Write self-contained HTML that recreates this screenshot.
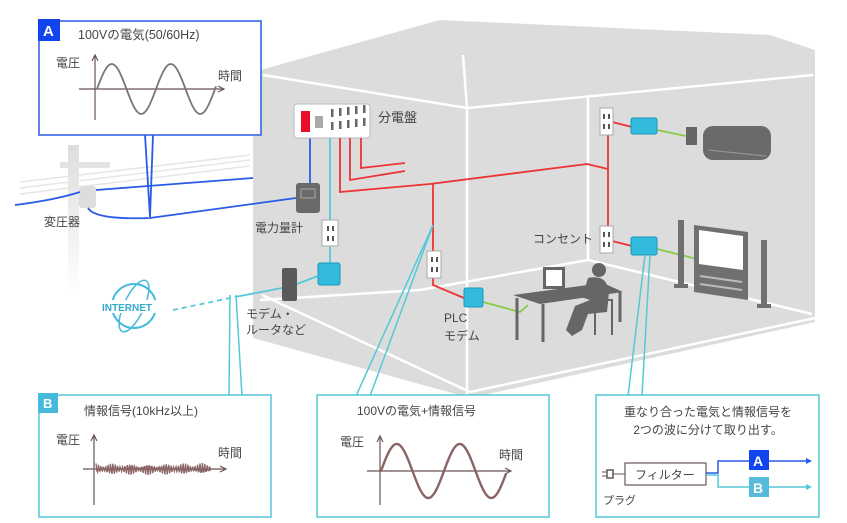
<!DOCTYPE html>
<html><head><meta charset="utf-8"><style>
html,body{margin:0;padding:0;background:#fff;}
svg{display:block;}
text{font-family:"Liberation Sans","Noto Sans CJK JP",sans-serif;fill:#444;}
</style></head><body>
<svg width="847" height="523" viewBox="0 0 847 523" xmlns="http://www.w3.org/2000/svg">
<defs>
<linearGradient id="pole" x1="0" y1="0" x2="0" y2="1"><stop offset="0" stop-color="#ddd"/><stop offset="1" stop-color="#fff"/></linearGradient>
</defs>
<rect x="68" y="145" width="11" height="150" fill="url(#pole)"/>
<rect x="60" y="162" width="50" height="6" fill="#e4e4e4"/>
<path d="M20,182 L250,155 M20,188 L250,160 M20,194 L250,166" stroke="#e6e6e6" stroke-width="1.5" fill="none"/>
<rect x="79" y="186" width="17" height="22" rx="3" fill="#ddd"/>
<polygon points="253,72 440,20 770,35 815,50 815,322 470,398 253,338" fill="#dcdcdc"/>
<g stroke="#fff" stroke-width="2.5" fill="none">
<path d="M263,75 L467,108 L813,75"/>
<path d="M467,108 L463,55"/>
<path d="M467,108 L467,395"/>
<path d="M588,98 L588,260 L812,314"/>
<path d="M588,260 L420,290 L260,300"/>
<path d="M470,392 L815,318"/>
<path d="M262,295 L470,392"/>
</g>
<g stroke="#2a5be8" stroke-width="1.8" fill="none">
<path d="M15,205 Q55,200 80,192"/>
<path d="M96,190 L253,178"/>
<path d="M88,208 Q95,220 150,218 L296,198"/>
<path d="M310,138 L310,184"/>
<path d="M145,135 L150,217 L153,135"/>
</g>
<rect x="39" y="21" width="222" height="114" fill="#fff" stroke="#2a5be8" stroke-width="1.5"/>
<rect x="38" y="19" width="22" height="22" fill="#1144ee"/>
<text x="43" y="36" font-size="15" font-weight="bold" style="fill:#fff">A</text>
<text x="78" y="39" font-size="12.5">100Vの電気(50/60Hz)</text>
<text x="56" y="67" font-size="12">電圧</text>
<text x="218" y="80" font-size="12">時間</text>
<g stroke="#6b5555" stroke-width="1.2" fill="none">
<path d="M95,120 L95,56 M92,61 L95,55 L98,61"/>
<path d="M79,89 L223,89 M218,86 L224,89 L218,92"/>
</g>
<path id="sA" d="" stroke="#777" stroke-width="1.8" fill="none"/>
<rect x="294" y="104" width="76" height="34" rx="3" fill="#fff" stroke="#bbb"/>
<rect x="301" y="111" width="9" height="21" fill="#e8102a"/>
<rect x="315" y="116" width="8" height="12" fill="#aaa"/>
<g fill="#666"><rect x="331" y="109" width="2.5" height="8"/><rect x="339" y="108" width="2.5" height="8"/><rect x="347" y="107" width="2.5" height="8"/><rect x="355" y="106" width="2.5" height="8"/><rect x="363" y="105" width="2.5" height="8"/>
<rect x="331" y="122" width="2.5" height="8"/><rect x="339" y="121" width="2.5" height="8"/><rect x="347" y="120" width="2.5" height="8"/><rect x="355" y="119" width="2.5" height="8"/><rect x="363" y="118" width="2.5" height="8"/></g>
<text x="378" y="122" font-size="13">分電盤</text>
<g stroke="#ee3333" stroke-width="1.8" fill="none">
<path d="M340,138 L340,192 L430,184 L587,164 L608,169"/>
<path d="M350,138 L350,180 L405,171"/>
<path d="M361,138 L361,168 L405,163"/>
<path d="M608,122 L608,240 M612,122 L632,127 M612,241 L632,246"/>
<path d="M433,184 L433,285 L464,298"/>
</g>
<path d="M330,138 L330,268" stroke="#55c8d8" stroke-width="1.8"/>
<rect x="296" y="183" width="24" height="30" rx="3" fill="#6a6a6a"/>
<rect x="301" y="189" width="14" height="9" fill="none" stroke="#aaa"/>
<text x="255" y="232" font-size="12">電力量計</text>
<g fill="#fff" stroke="#aaa">
<rect x="322" y="220" width="16" height="26"/>
<rect x="427" y="251" width="14" height="27"/>
<rect x="600" y="108" width="13" height="27"/>
<rect x="600" y="226" width="13" height="27"/>
</g>
<g fill="#555"><rect x="327" y="226" width="2" height="5"/><rect x="332" y="226" width="2" height="5"/><rect x="327" y="236" width="2" height="5"/><rect x="332" y="236" width="2" height="5"/>
<rect x="431" y="257" width="2" height="5"/><rect x="436" y="257" width="2" height="5"/><rect x="431" y="267" width="2" height="5"/><rect x="436" y="267" width="2" height="5"/>
<rect x="603" y="114" width="2" height="5"/><rect x="608" y="114" width="2" height="5"/><rect x="603" y="124" width="2" height="5"/><rect x="608" y="124" width="2" height="5"/>
<rect x="603" y="232" width="2" height="5"/><rect x="608" y="232" width="2" height="5"/><rect x="603" y="242" width="2" height="5"/><rect x="608" y="242" width="2" height="5"/></g>
<g stroke="#88cc44" stroke-width="1.8" fill="none">
<path d="M657,130 L686,136"/>
<path d="M657,249 L697,259"/>
<path d="M483,302 L520,312 L528,305"/>
</g>
<g fill="#33bbdd" stroke="#1a99bb">
<rect x="631" y="118" width="26" height="16" rx="2"/>
<rect x="631" y="237" width="26" height="18" rx="2"/>
<rect x="464" y="288" width="19" height="19" rx="2"/>
<rect x="318" y="263" width="22" height="22" rx="2"/>
</g>
<rect x="686" y="127" width="11" height="18" fill="#666"/>
<rect x="703" y="126" width="68" height="34" rx="10" fill="#6a6a6a"/>
<path d="M708,150 L766,156" stroke="#999"/>
<rect x="678" y="220" width="6" height="65" fill="#707070"/>
<rect x="674" y="284" width="14" height="4" fill="#707070"/>
<rect x="761" y="240" width="6" height="65" fill="#707070"/>
<rect x="757" y="304" width="14" height="4" fill="#707070"/>
<polygon points="694,225 748,232 748,300 694,292" fill="#707070"/>
<polygon points="699,230 743,236 743,270 699,264" fill="#fff"/>
<g stroke="#bbb" stroke-width="2"><path d="M700,276 L742,282 M700,284 L742,290"/></g>
<path d="M513,295 L603,283 L623,292 L540,304 Z" fill="#666"/>
<g stroke="#666" stroke-width="3"><path d="M517,298 L517,340 M543,304 L543,342 M620,292 L620,322"/></g>
<rect x="543" y="267" width="22" height="22" fill="#666"/>
<rect x="546" y="270" width="16" height="16" fill="#fff"/>
<circle cx="599" cy="270" r="7" fill="#666"/>
<path d="M588,278 Q607,274 609,292 L607,312 L588,314 L582,330 L572,336 L566,330 L575,306 L590,300 L578,296 L585,288 Z" fill="#666"/>
<path d="M590,300 L612,300 L612,335 M595,300 L595,335" stroke="#666" stroke-width="2" fill="none"/>
<rect x="282" y="268" width="15" height="33" rx="2" fill="#5a5a5a"/>
<path d="M297,284 L318,276" stroke="#55c8d8" stroke-width="1.8"/>
<path d="M173,310 L235,297" stroke="#55c8d8" stroke-width="1.8" stroke-dasharray="5,4"/>
<path d="M235,297 L282,288" stroke="#55c8d8" stroke-width="1.8"/>
<circle cx="134" cy="306" r="22" fill="none" stroke="#44bbdd" stroke-width="2"/>
<ellipse cx="134" cy="306" rx="10" ry="28" transform="rotate(25 134 306)" fill="none" stroke="#44bbdd" stroke-width="1.5"/>
<rect x="100" y="300" width="68" height="13" fill="#fff"/>
<text x="102" y="311" font-size="10" font-weight="bold" style="fill:#33aacc">INTERNET</text>
<text x="44" y="226" font-size="12">変圧器</text>
<text x="246" y="318" font-size="12">モデム・</text>
<text x="246" y="334" font-size="12">ルータなど</text>
<text x="444" y="322" font-size="12">PLC</text>
<text x="444" y="340" font-size="12">モデム</text>
<text x="533" y="243" font-size="12">コンセント</text>
<g stroke="#55c8d8" stroke-width="1.5" fill="none">
<path d="M230,295 L229,396 M236,295 L242,396"/>
<path d="M433,225 L356,396 M433,225 L370,396"/>
<path d="M645,255 L628,396 M650,255 L642,396"/>
</g>
<rect x="39" y="395" width="232" height="122" fill="#fff" stroke="#55c8d8" stroke-width="1.5"/>
<rect x="38" y="393" width="20" height="20" fill="#44bbdd"/>
<text x="43" y="408" font-size="13" font-weight="bold" style="fill:#fff">B</text>
<text x="84" y="415" font-size="12">情報信号(10kHz以上)</text>
<text x="56" y="444" font-size="12">電圧</text>
<text x="218" y="457" font-size="12">時間</text>
<g stroke="#6b5555" stroke-width="1.2" fill="none">
<path d="M94,505 L94,436 M91,441 L94,435 L97,441"/>
<path d="M83,469 L225,469 M220,466 L226,469 L220,472"/>
</g>
<path id="sB" d="" stroke="#8a6464" stroke-width="1.3" fill="none"/>
<rect x="317" y="395" width="232" height="122" fill="#fff" stroke="#55c8d8" stroke-width="1.5"/>
<text x="357" y="415" font-size="12">100Vの電気+情報信号</text>
<text x="340" y="446" font-size="12">電圧</text>
<text x="499" y="459" font-size="12">時間</text>
<g stroke="#6b5555" stroke-width="1.2" fill="none">
<path d="M380,505 L380,437 M377,442 L380,436 L383,442"/>
<path d="M367,471 L510,471 M505,468 L511,471 L505,474"/>
</g>
<path id="sM" d="" stroke="#8a6464" stroke-width="2.4" fill="none"/>
<rect x="596" y="395" width="223" height="122" fill="#fff" stroke="#55c8d8" stroke-width="1.5"/>
<text x="708" y="416" font-size="12" text-anchor="middle">重なり合った電気と情報信号を</text>
<text x="708" y="434" font-size="12" text-anchor="middle">2つの波に分けて取り出す。</text>
<rect x="625" y="463" width="81" height="22" fill="#fff" stroke="#6b5555" stroke-width="1.2"/>
<text x="635" y="479" font-size="12">フィルター</text>
<path d="M612,474 L625,474" stroke="#6b5555"/>
<rect x="607" y="470" width="6" height="8" fill="none" stroke="#6b5555" stroke-width="1.5"/>
<path d="M602,472 L607,472 M602,476 L607,476" stroke="#6b5555"/>
<text x="603" y="504" font-size="11">プラグ</text>
<path d="M706,473 L718,473 L718,461 L806,461" stroke="#2a5be8" stroke-width="1.5" fill="none"/>
<path d="M706,475 L718,475 L718,487 L806,487" stroke="#55c8d8" stroke-width="1.5" fill="none"/>
<path d="M806,458 L812,461 L806,464 Z" fill="#2a5be8"/>
<path d="M806,484 L812,487 L806,490 Z" fill="#55c8d8"/>
<rect x="749" y="450" width="20" height="20" fill="#1144ee"/>
<text x="753" y="466" font-size="14" font-weight="bold" style="fill:#fff">A</text>
<rect x="749" y="477" width="20" height="20" fill="#55bbd8"/>
<text x="753" y="493" font-size="14" font-weight="bold" style="fill:#fff">B</text>
</svg>
<script>
function sine(x0,x1,yc,a,per){var d='';for(var x=x0;x<=x1;x+=1){var y=yc-a*Math.sin((x-x0)/per*2*Math.PI);d+=(x==x0?'M':'L')+x+','+y.toFixed(1)+' ';}return d;}
document.getElementById('sA').setAttribute('d',sine(97,216,89,25,59));
document.getElementById('sM').setAttribute('d',sine(381,506,471,27,63));
var d='';for(var x=96;x<=212;x+=0.8){var y=469+6*Math.sin(x*2.6)*(0.7+0.3*Math.sin(x*0.35));d+=(x==96?'M':'L')+x.toFixed(1)+','+y.toFixed(1)+' ';}
document.getElementById('sB').setAttribute('d',d);
</script>
</body></html>
